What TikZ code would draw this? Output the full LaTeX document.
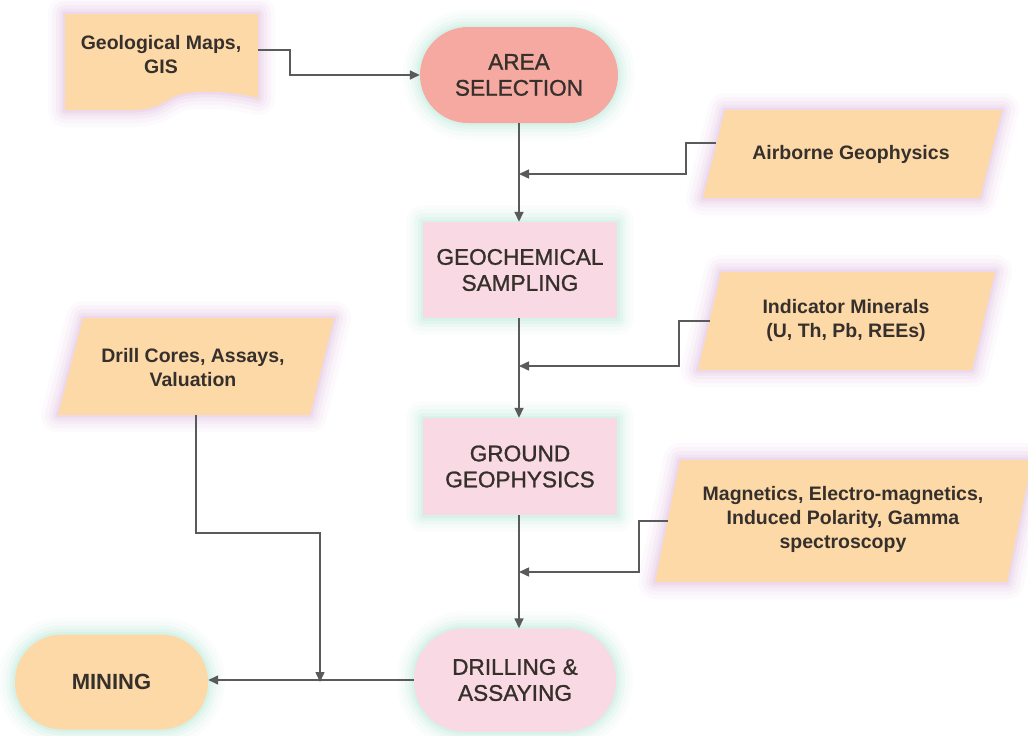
\documentclass[tikz,border=0pt]{standalone}
\usepackage{fontspec}
\setmainfont{Liberation Sans}
\newfontfamily\medfam[FakeBold=1.2]{Liberation Sans}
\usetikzlibrary{arrows.meta}
\definecolor{peach}{HTML}{FDD9A8}
\definecolor{salmon}{HTML}{F6A9A1}
\definecolor{pinkbox}{HTML}{F9D9E3}
\definecolor{txt}{HTML}{36302C}
\definecolor{ln}{HTML}{5A5A5A}
\definecolor{glowp}{HTML}{DDB2DE}
\definecolor{glowm}{HTML}{AEE6D2}
\tikzset{
  glow/.style={
    preaction={draw=#1, line width=34pt, opacity=.06, line join=round},
    preaction={draw=#1, line width=26pt, opacity=.08, line join=round},
    preaction={draw=#1, line width=18pt, opacity=.11, line join=round},
    preaction={draw=#1, line width=11pt, opacity=.15, line join=round},
    preaction={draw=#1, line width=5pt, opacity=.2, line join=round}},
  mainbox/.style={text=txt, align=center, inner sep=0pt,
    font=\medfam\fontsize{22.6}{26}\selectfont, glow=glowm},
  rectbox/.style={mainbox, fill=pinkbox, minimum width=194pt, minimum height=96pt},
  sidetext/.style={text=txt, align=center, inner sep=0pt,
    font=\bfseries\fontsize{19.5}{24}\selectfont},
  sideshape/.style={fill=peach, glow=glowp},
  arr/.style={draw=ln, line width=1.5pt, -{Triangle[length=10pt,width=9pt]}},
}
\begin{document}
\begin{tikzpicture}[x=1pt, y=-1pt]
\useasboundingbox[fill=white] (0,0) rectangle (1028,736);

% ---------- side (input) shapes ----------
% Geological Maps (document shape)
\fill[sideshape] (65,14) -- (258,14) -- (258,98)
  .. controls (235,92) and (200,89) .. (178,95)
  .. controls (165,100) and (160,109) .. (135,110) -- (65,110) -- cycle;
\node[sidetext] (geo) at (161,55) {Geological Maps,\\GIS};
\coordinate (geoR) at (258,50);

% Airborne Geophysics
\fill[sideshape] (725,110) -- (1002,110) -- (980,198) -- (703,198) -- cycle;
\node[sidetext] (air) at (851,154) {Airborne Geophysics};
\coordinate (airL) at (716,143);

% Indicator Minerals
\fill[sideshape] (721,272) -- (995,272) -- (972,370) -- (698,370) -- cycle;
\node[sidetext] (ind) at (846,320) {Indicator Minerals\\(U, Th, Pb, REEs)};
\coordinate (indL) at (710,321);

% Magnetics ...
\fill[sideshape] (680,460) -- (1032,460) -- (1007,582) -- (655,582) -- cycle;
\node[sidetext] (mag) at (843,519) {Magnetics, Electro-magnetics,\\Induced Polarity, Gamma\\spectroscopy};
\coordinate (magL) at (668,521);

% Drill Cores
\fill[sideshape] (83,318) -- (334,318) -- (310,415) -- (58,415) -- cycle;
\node[sidetext] (dc) at (193,368) {Drill Cores, Assays,\\Valuation};
\coordinate (dcB) at (196,415);

% ---------- main flow ----------
\node[mainbox, fill=salmon, minimum width=198pt, minimum height=96pt,
      rounded corners=48pt] (area) at (519,75) {AREA\\SELECTION};
\node[rectbox] (geochem) at (520,270) {GEOCHEMICAL\\SAMPLING};
\node[rectbox, minimum height=97pt] (ground) at (520,466.5) {GROUND\\GEOPHYSICS};
\node[mainbox, fill=pinkbox, minimum width=202pt, minimum height=103pt,
      rounded corners=50pt] (drill) at (515,680) {DRILLING \&\\ASSAYING};
\node[mainbox, fill=peach, minimum width=193pt, minimum height=95pt,
      rounded corners=47pt, font=\bfseries\fontsize{22}{26}\selectfont] (mining) at (111.5,682) {MINING};

% junction points on the main line
\coordinate (j1) at (519,174);
\coordinate (j2) at (519,366);
\coordinate (j3) at (519,572);
\coordinate (jm) at (320,682);

% ---------- connectors ----------
\draw[arr] (geoR) -- ++(32,0) |- (area.west);
\draw[arr] (area.south) -- (area.south |- geochem.north);
\draw[arr] (geochem.south -| area.south) -- (ground.north -| area.south);
\draw[arr] (ground.south -| area.south) -- (drill.north -| area.south);
\draw[arr] (airL) -- ++(-30,0) |- (j1);
\draw[arr] (indL) -- ++(-31,0) |- (j2);
\draw[arr] (magL) -- ++(-29,0) |- (j3);
\draw[arr] (drill.west) -- (drill.west -| mining.east);
\draw[arr] (dcB) -- ++(0,118) -| (jm);
\end{tikzpicture}
\end{document}
